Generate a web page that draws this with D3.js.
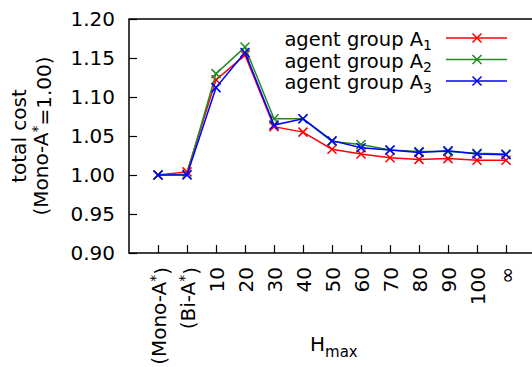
<!DOCTYPE html>
<html>
<head>
<meta charset="utf-8">
<script src="https://cdn.jsdelivr.net/npm/d3@7"></script>
<style>
	body { margin:0; background:#fff; }
	svg text { font-family:"DejaVu Sans", sans-serif; fill:#000; }
</style>
</head>
<body>
<svg id="COST_CHART"></svg>
<script>
// x categories (H_max)
var categories = ["(Mono-A*)", "(Bi-A*)", "10", "20", "30", "40", "50", "60", "70", "80", "90", "100", "∞"];
var yTicks = [0.90, 0.95, 1.00, 1.05, 1.10, 1.15, 1.20];

// total cost, normalised to Mono-A*
var groupA1 = [1.000, 1.004, 1.122, 1.154, 1.062, 1.055, 1.033, 1.027, 1.022, 1.020, 1.021, 1.019, 1.019];
var groupA2 = [1.000, 1.001, 1.130, 1.164, 1.072, 1.072, 1.043, 1.039, 1.032, 1.030, 1.030, 1.028, 1.027];
var groupA3 = [1.000, 1.000, 1.112, 1.157, 1.064, 1.072, 1.044, 1.035, 1.032, 1.029, 1.031, 1.027, 1.026];

var seriesNames = ["agent group A", "agent group A", "agent group A"];
var seriesSubs = ["1", "2", "3"];

(function(){
	var width = 532,
		height = 367,
		colors = ["#ff0000", "#228b22", "#0000ff"],
		allSeries = [groupA1, groupA2, groupA3];

	var svg = d3.select("#COST_CHART")
		.attr("width", width)
		.attr("height", height);

	var x = d3.scalePoint()
		.domain(categories)
		.range([158, 506]);

	var y = d3.scaleLinear()
		.domain([0.90, 1.20])
		.range([253, 19]);

	var step = x.step(),
		left = x(categories[0]) - step,
		right = x(categories[categories.length-1]) + step;

	/******** axes ********/
	svg.append("g")
		.attr("class", "y axis")
		.attr("transform", "translate(" + left + ",0)")
		.call(d3.axisLeft(y).tickValues(yTicks).tickFormat(d3.format(".2f")).tickSizeInner(-8).tickSizeOuter(0).tickPadding(14))
		.call(function(g){
			g.select(".domain").remove();
			g.selectAll("line").attr("stroke", "#000").attr("stroke-width", 1.2);
			g.selectAll("text").style("font-size", "20px").attr("font-family", null);
		});

	svg.append("g")
		.attr("class", "x axis")
		.attr("transform", "translate(0," + y(0.90) + ")")
		.call(d3.axisBottom(x).tickFormat("").tickSizeInner(-8).tickSizeOuter(0))
		.call(function(g){
			g.select(".domain").remove();
			g.selectAll("line").attr("stroke", "#000").attr("stroke-width", 1.2);
		});

	// rotated category labels, with superscript asterisk
	categories.forEach(function(c){
		var t = svg.append("text")
			.attr("transform", "translate(" + (x(c) + 1) + ",267) rotate(-90)")
			.attr("text-anchor", "end")
			.attr("dy", "0.35em")
			.style("font-size", "20px");
		var parts = c.split("*");
		t.append("tspan").text(parts[0]);
		if(parts.length > 1){
			t.append("tspan").attr("dy", "-0.45em").style("font-size", "14px").text("*");
			t.append("tspan").attr("dy", "0.45em").text(parts[1]);
		}
	});

	// frame (right side falls outside the picture)
	svg.append("rect")
		.attr("x", left)
		.attr("y", y(1.20))
		.attr("width", right - left)
		.attr("height", y(0.90) - y(1.20))
		.attr("fill", "none")
		.attr("stroke", "#000")
		.attr("stroke-width", 1.5);

	/******** axis titles ********/
	var midY = (y(0.90) + y(1.20)) / 2;
	svg.append("text")
		.attr("transform", "translate(26," + midY + ") rotate(-90)")
		.attr("text-anchor", "middle")
		.style("font-size", "20px")
		.text("total cost");

	var yt2 = svg.append("text")
		.attr("transform", "translate(48," + midY + ") rotate(-90)")
		.attr("text-anchor", "middle")
		.style("font-size", "20px");
	yt2.append("tspan").text("(Mono-A");
	yt2.append("tspan").attr("dy", "-0.45em").style("font-size", "14px").text("*");
	yt2.append("tspan").attr("dy", "0.45em").text("=1.00)");

	var xt = svg.append("text")
		.attr("x", 310)
		.attr("y", 351)
		.style("font-size", "20px");
	xt.append("tspan").text("H");
	xt.append("tspan").attr("dy", "6").style("font-size", "15px").text("max");

	/******** lines ********/
	var line = d3.line()
		.x(function(d, i){ return x(categories[i]); })
		.y(function(d){ return y(d); });

	var crossPath = function(cx, cy, r){
		return "M" + (cx-r) + "," + (cy-r) + "L" + (cx+r) + "," + (cy+r) +
			"M" + (cx-r) + "," + (cy+r) + "L" + (cx+r) + "," + (cy-r);
	};

	allSeries.forEach(function(data, s){
		var g = svg.append("g").attr("class", "series-" + s);
		g.append("path")
			.datum(data)
			.attr("d", line)
			.attr("fill", "none")
			.attr("stroke", colors[s])
			.attr("stroke-width", 1.5);
		g.selectAll(".mark")
			.data(data)
			.enter().append("path")
			.attr("class", "mark")
			.attr("d", function(d, i){ return crossPath(x(categories[i]), y(d), 4.5); })
			.attr("stroke", colors[s])
			.attr("stroke-width", 1.5)
			.attr("fill", "none");
	});

	/******** legend ********/
	var legend = svg.append("g").attr("class", "legend");
	seriesNames.forEach(function(name, s){
		var ly = 38 + s * 21.5;
		var t = legend.append("text")
			.attr("x", 432)
			.attr("y", ly + 8)
			.attr("text-anchor", "end")
			.style("font-size", "19.5px");
		t.append("tspan").text(name);
		t.append("tspan").attr("dy", "4").style("font-size", "14px").text(seriesSubs[s]);
		legend.append("line")
			.attr("x1", 446).attr("x2", 507)
			.attr("y1", ly).attr("y2", ly)
			.attr("stroke", colors[s])
			.attr("stroke-width", 1.5);
		legend.append("path")
			.attr("d", crossPath(477, ly, 4.5))
			.attr("stroke", colors[s])
			.attr("stroke-width", 1.5)
			.attr("fill", "none");
	});
})();
</script>
</body>
</html>
